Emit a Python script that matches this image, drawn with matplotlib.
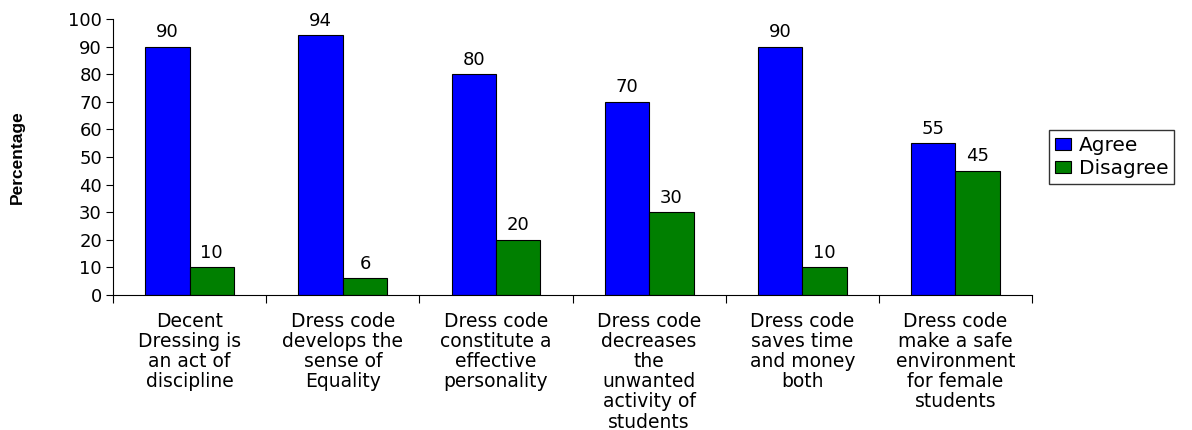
import numpy as np
from matplotlib import pyplot as plt

categories = [
    "Decent\nDressing is\nan act of\ndiscipline",
    "Dress code\ndevelops the\nsense of\nEquality",
    "Dress code\nconstitute a\neffective\npersonality",
    "Dress code\ndecreases\nthe\nunwanted\nactivity of\nstudents",
    "Dress code\nsaves time\nand money\nboth",
    "Dress code\nmake a safe\nenvironment\nfor female\nstudents",
]
agree = [90, 94, 80, 70, 90, 55]
disagree = [10, 6, 20, 30, 10, 45]

plt.rcParams["font.family"] = ["DejaVu Sans"]

fig = plt.figure(figsize=(11.92, 4.30), dpi=100)
ax = fig.add_axes([0.0948, 0.314, 0.771, 0.642])

x = np.arange(len(categories))
w = 0.29
b1 = ax.bar(x - w / 2, agree, w, color="#0000ff", edgecolor="black", linewidth=0.8, label="Agree")
b2 = ax.bar(x + w / 2, disagree, w, color="#007f00", edgecolor="black", linewidth=0.8, label="Disagree")
ax.bar_label(b1, padding=4, fontsize=13)
ax.bar_label(b2, padding=4, fontsize=13)

ax.set_xlim(-0.5, len(categories) - 0.5)
ax.set_ylim(0, 100)
ax.set_yticks(range(0, 101, 10))
ax.tick_params(axis="y", labelsize=13, length=5, width=0.8, pad=3)
ax.set_xticks(np.arange(len(categories) + 1) - 0.5)
ax.set_xticklabels([])
ax.tick_params(axis="x", length=6, width=0.8)
for xi, lab in zip(x, categories):
    ax.text(xi, -6, lab, ha="center", va="top", fontsize=13.5, linespacing=1.08,
            transform=ax.transData)

for s in ["top", "right"]:
    ax.spines[s].set_visible(False)

ax.set_ylabel("Percentage", fontsize=12.5, fontweight="bold",
              family=["Liberation Sans Narrow", "Liberation Sans"], labelpad=31)

ax.legend(loc="center left", bbox_to_anchor=(1.018, 0.5), frameon=True,
          fancybox=False, edgecolor="black", fontsize=14.5, handlelength=0.8,
          handleheight=0.55, handletextpad=0.4, borderpad=0.3, labelspacing=0.2,
          borderaxespad=0)

fig.savefig("out.png", dpi=100)
